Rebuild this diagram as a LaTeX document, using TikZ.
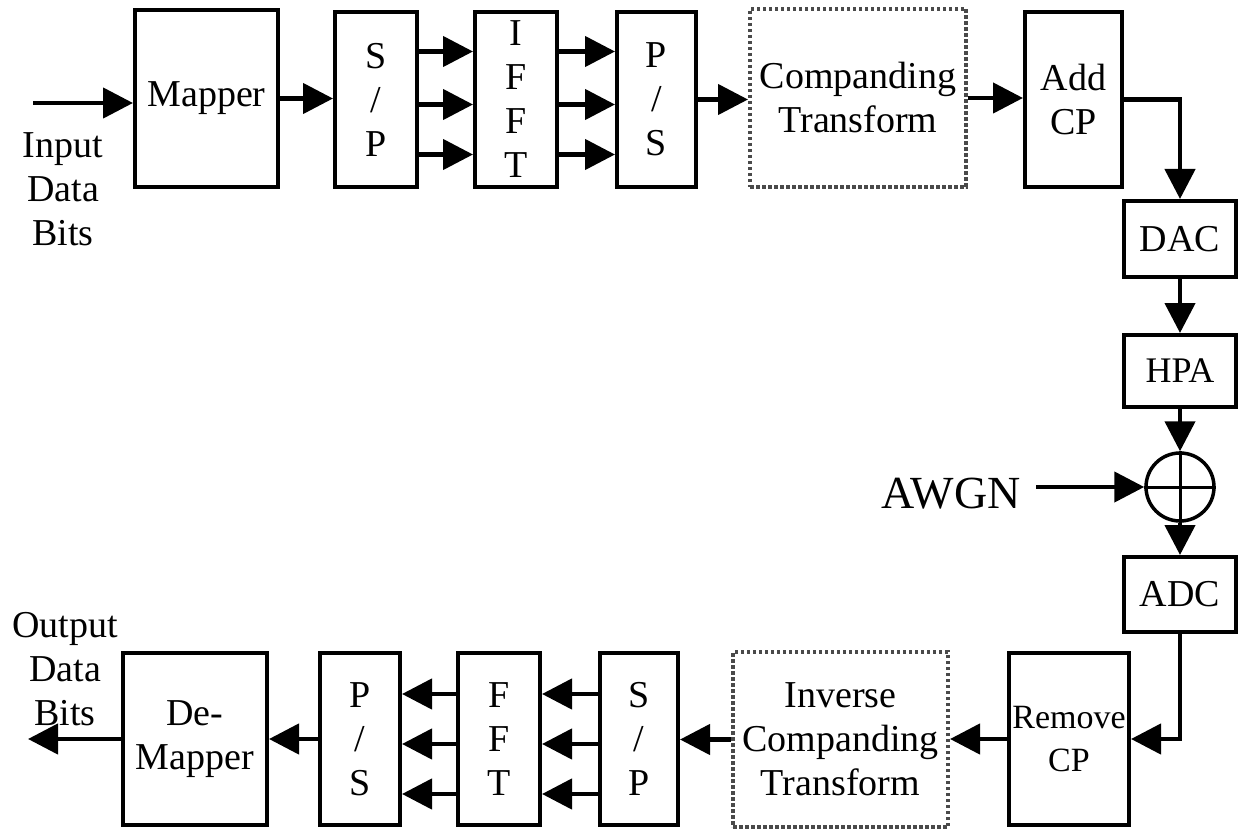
\documentclass[tikz,border=0pt]{standalone}
\usepackage{fontspec}
\setmainfont{Liberation Serif}
\usepackage{tikz}
\usetikzlibrary{arrows.meta}
\definecolor{dotgrey}{HTML}{4A4A4A}
\newcommand{\blkfont}{\fontsize{38}{44}\selectfont}

\begin{document}
\begin{tikzpicture}[x=1pt, y=-1pt,
    blk/.style={draw, line width=4pt, inner sep=0pt, align=center, font=\blkfont},
    dotblk/.style={blk, draw=dotgrey, line width=4pt, dash pattern=on 3.5pt off 2.5pt},
    sig/.style={line width=4.5pt, -{Triangle[length=30pt, width=30pt]}}]
  \useasboundingbox (0,0) rectangle (1239,829);

  % Transmitter row
  \node[blk, minimum width=143pt, minimum height=177pt] (mapper) at (206.5, 98.5) {Mapper};
  \node[blk, minimum width=82pt, minimum height=175pt] (sptx) at (376, 99.5) {S\\/\\P};
  \node[blk, minimum width=82pt, minimum height=175pt] (ifft) at (516, 99.5) {I\\F\\F\\T};
  \node[blk, minimum width=79pt, minimum height=175pt] (pstx) at (656.5, 99.5) {P\\/\\S};
  \node[dotblk, minimum width=216pt, minimum height=178pt] (comp) at (858, 98)
    {Companding\\Transform};
  \node[blk, minimum width=97pt, minimum height=175pt] (addcp) at (1073.5, 99.5) {Add\\CP};

  % Channel column
  \node[blk, minimum width=112pt, minimum height=76pt] (dac) at (1180, 239) {DAC};
  \node[blk, minimum width=112pt, minimum height=72pt,
        font=\fontsize{36}{44}\selectfont] (hpa) at (1180, 371) {HPA};
  \node[draw, circle, line width=3.5pt, minimum size=68pt, inner sep=0pt] (sum) at (1180, 487) {};
  \draw[line width=3pt] (sum.north) -- (sum.south) (sum.west) -- (sum.east);
  \node[font=\fontsize{46}{50}\selectfont] (awgn) at (951, 494) {AWGN};
  \node[blk, minimum width=112pt, minimum height=75pt] (adc) at (1180, 594.5) {ADC};

  % Receiver row
  \node[blk, minimum width=120pt, minimum height=172pt,
        font=\fontsize{34}{43}\selectfont] (remcp) at (1069, 739) {Remove\\CP};
  \node[dotblk, minimum width=215pt, minimum height=175pt] (icomp) at (840.5, 739.5)
    {Inverse\\Companding\\Transform};
  \node[blk, minimum width=78pt, minimum height=172pt] (sprx) at (639, 739) {S\\/\\P};
  \node[blk, minimum width=82pt, minimum height=172pt] (fft) at (499, 739) {F\\F\\T};
  \node[blk, minimum width=80pt, minimum height=172pt] (psrx) at (360, 739) {P\\/\\S};
  \node[blk, minimum width=144pt, minimum height=172pt] (demap) at (195, 739) {De-\\Mapper};

  % Input and output labels
  \node[align=center, font=\blkfont] (inlbl) at (63, 189) {Input\\Data\\Bits};
  \node[align=center, font=\blkfont] (outlbl) at (65, 669) {Output\\Data\\Bits};
  \coordinate (inbits) at (33, 103);
  \coordinate (outbits) at (28, 745);

  % Connectors
  \draw[sig] (inbits) -- (inbits -| mapper.west);
  \draw[sig] (mapper.east) -- (mapper.east -| sptx.west);
  \foreach \dy in {48pt, -5pt, -55pt} {
    \draw[sig] ([yshift=\dy]sptx.east) -- ([yshift=\dy]ifft.west);
    \draw[sig] ([yshift=\dy]ifft.east) -- ([yshift=\dy]pstx.west);
  }
  \draw[sig] (pstx.east) -- (pstx.east -| comp.west);
  \draw[sig] (comp.east) -- (comp.east -| addcp.west);
  \draw[sig] (addcp.east) -| (dac.north);
  \draw[sig] (dac.south) -- (hpa.north);
  \draw[sig] (hpa.south) -- (sum.north);
  \draw[sig] ([xshift=12pt]awgn.east |- sum.west) -- (sum.west);
  \draw[sig] (sum.south) -- (adc.north);
  \draw[sig] (adc.south) |- (remcp.east);
  \draw[sig] (remcp.west) -- (remcp.west -| icomp.east);
  \draw[sig] (icomp.west) -- (icomp.west -| sprx.east);
  \foreach \dy in {45pt, -5pt, -55pt} {
    \draw[sig] ([yshift=\dy]sprx.west) -- ([yshift=\dy]fft.east);
    \draw[sig] ([yshift=\dy]fft.west) -- ([yshift=\dy]psrx.east);
  }
  \draw[sig] (psrx.west) -- (demap.east);
  \draw[sig] (demap.west) -- (demap.west -| outbits);
\end{tikzpicture}
\end{document}
